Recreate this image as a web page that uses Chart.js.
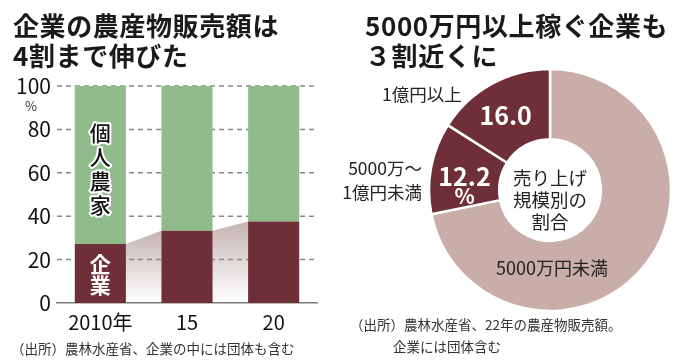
<!DOCTYPE html>
<html lang="ja">
<head>
<meta charset="utf-8">
<script src="https://cdn.jsdelivr.net/npm/chart.js@4.4.1/dist/chart.umd.min.js"></script>
<style>
  body { margin: 0; background: #fff; font-family: "Noto Sans CJK JP", sans-serif; color: #1a1a1a; }
  #wrap { position: relative; width: 680px; height: 363px; overflow: hidden; }
  canvas { position: absolute; }
  .t { position: absolute; white-space: nowrap; line-height: 1; }
  .title { font-size: 26px; font-weight: 700; letter-spacing: 0.6px; }
  .src { font-size: 13.5px; color: #333; }
  .lbl { font-size: 17.5px; color: #222; }
</style>
</head>
<body>
<div id="wrap">
  <canvas id="graficoBarras" width="340" height="363" style="left:0;top:0;width:340px;height:363px"></canvas>
  <canvas id="graficoRosca" width="350" height="363" style="left:330px;top:0;width:350px;height:363px"></canvas>

  <div class="t title" style="left:13px;top:12px">企業の農産物販売額は</div>
  <div class="t title" style="left:13px;top:42px">4割まで伸びた</div>
  <div class="t" style="left:25px;top:99px;font-size:13px;color:#333">%</div>
  <div class="t src" style="left:11px;top:342px">（出所）農林水産省、企業の中には団体も含む</div>

  <div class="t title" style="left:365px;top:12px">5000万円以上稼ぐ企業も</div>
  <div class="t title" style="left:365px;top:42px">３割近くに</div>
  <div class="t lbl" style="left:382px;top:85px">1億円以上</div>
  <div class="t lbl" style="right:258px;top:159px;text-align:right">5000万～</div>
  <div class="t lbl" style="right:258px;top:183px;text-align:right">1億円未満</div>
  <div class="t lbl" style="left:496px;top:258px;font-size:18px">5000万円未満</div>
  <div class="t" style="left:500px;top:166px;width:100px;text-align:center;font-size:18.5px;line-height:22px;color:#222">売り上げ<br>規模別の<br>割合</div>
  <div class="t src" style="left:350px;top:318px">（出所）農林水産省、22年の農産物販売額。</div>
  <div class="t src" style="left:393px;top:340px">企業には団体含む</div>
</div>

<script>
// --- DADOS ---
const ANOS = ['2010年', '15', '20'];
const EMPRESAS = [27.2, 33.3, 37.6];
const INDIVIDUAIS = [72.8, 66.7, 62.4];

const FAIXAS = ['5000万円未満', '5000万～1億円未満', '1億円以上'];
const PARTICIPACAO = [71.8, 12.2, 16.0];

const VERMELHO = '#6e2f38';
const VERDE = '#8fbc8a';
const ROSA = '#c9ada8';
const FONTE = '"Noto Sans CJK JP", sans-serif';

// faixa em degradê ligando o topo de uma barra à seguinte
const pluginLigacao = {
    id: 'ligacao',
    beforeDraw(chart) {
        const ctx = chart.ctx;
        const barras = chart.getDatasetMeta(0).data;
        for (let i = 0; i < barras.length - 1; i++) {
            const a = barras[i], b = barras[i + 1];
            const x1 = a.x + a.width / 2, x2 = b.x - b.width / 2;
            const topo = Math.min(a.y, b.y);
            const grad = ctx.createLinearGradient(0, topo, 0, a.base);
            grad.addColorStop(0, '#c4b4b2');
            grad.addColorStop(1, '#ffffff');
            ctx.save();
            ctx.fillStyle = grad;
            ctx.beginPath();
            ctx.moveTo(x1, a.y);
            ctx.lineTo(x2, b.y);
            ctx.lineTo(x2, b.base);
            ctx.lineTo(x1, a.base);
            ctx.closePath();
            ctx.fill();
            ctx.restore();
        }
    },
    // linhas tracejadas de grade, desenhadas à mão por cima do degradê
    beforeDatasetsDraw(chart) {
        const ctx = chart.ctx;
        const area = chart.chartArea;
        const y = chart.scales.y;
        ctx.save();
        ctx.strokeStyle = '#888888';
        ctx.lineWidth = 1.5;
        ctx.setLineDash([5, 4]);
        y.ticks.forEach(t => {
            if (t.value === 0) return;
            const py = y.getPixelForValue(t.value);
            ctx.beginPath();
            ctx.moveTo(area.left, py);
            ctx.lineTo(area.right, py);
            ctx.stroke();
        });
        ctx.restore();
    },
    afterDatasetsDraw(chart) {
        const ctx = chart.ctx;
        const y = chart.scales.y;
        const x = chart.getDatasetMeta(0).data[0].x;
        ctx.save();
        ctx.textAlign = 'center';
        ctx.textBaseline = 'middle';
        ctx.font = '500 21px ' + FONTE;
        ctx.lineJoin = 'round';
        ['個', '人', '農', '家'].forEach((c, i) => {
            const py = y.getPixelForValue(78.3 - i * 11);
            ctx.strokeStyle = '#fff';
            ctx.lineWidth = 4;
            ctx.strokeText(c, x, py);
            ctx.fillStyle = '#111';
            ctx.fillText(c, x, py);
        });
        ctx.font = '700 21px ' + FONTE;
        ctx.fillStyle = '#fff';
        ['企', '業'].forEach((c, i) => {
            ctx.fillText(c, x, y.getPixelForValue(18 - i * 9.7));
        });
        ctx.restore();
    }
};

new Chart(document.getElementById('graficoBarras'), {
    type: 'bar',
    data: {
        labels: ANOS,
        datasets: [
            { label: '企業', data: EMPRESAS, backgroundColor: VERMELHO },
            { label: '個人農家', data: INDIVIDUAIS, backgroundColor: VERDE }
        ]
    },
    options: {
        responsive: false,
        animation: false,
        barPercentage: 0.59,
        categoryPercentage: 1,
        layout: { padding: { top: 86, right: 23, left: 0, bottom: 0 } },
        plugins: { legend: { display: false }, tooltip: { enabled: false } },
        scales: {
            x: {
                stacked: true,
                grid: { display: false, drawTicks: false },
                border: { display: true, color: '#7a7a7a', width: 1.5 },
                ticks: { color: '#111', font: { family: FONTE, size: 20 }, padding: 7 },
                afterFit: s => { s.height = 60; }
            },
            y: {
                stacked: true,
                min: 0,
                max: 100,
                grid: { display: false, drawTicks: false },
                border: { display: false },
                ticks: { stepSize: 20, color: '#111', font: { family: FONTE, size: 21 }, padding: 6 },
                afterFit: s => { s.width = 57; }
            }
        }
    },
    plugins: [pluginLigacao]
});

// rótulos de valor dentro das fatias escuras
const pluginValores = {
    id: 'valores',
    afterDatasetsDraw(chart) {
        const ctx = chart.ctx;
        const fatias = chart.getDatasetMeta(0).data;
        ctx.save();
        ctx.fillStyle = '#fff';
        ctx.textAlign = 'center';
        ctx.textBaseline = 'middle';
        ctx.font = '700 25px ' + FONTE;
        const p16 = fatias[2].getCenterPoint();
        ctx.fillText(PARTICIPACAO[2].toFixed(1), p16.x - 3, p16.y + 1);
        const p12 = fatias[1].getCenterPoint();
        ctx.fillText(PARTICIPACAO[1].toFixed(1), p12.x - 1, p12.y + 2);
        ctx.font = '700 21px ' + FONTE;
        ctx.fillText('%', p12.x - 1, p12.y + 22);
        ctx.restore();
    }
};

new Chart(document.getElementById('graficoRosca'), {
    type: 'doughnut',
    data: {
        labels: FAIXAS,
        datasets: [{
            data: PARTICIPACAO,
            backgroundColor: [ROSA, VERMELHO, VERMELHO],
            borderColor: '#fff',
            borderWidth: 2.5
        }]
    },
    options: {
        responsive: false,
        animation: false,
        radius: 121,
        cutout: '42%',
        layout: { padding: { left: 100, right: 10, top: 70, bottom: 53 } },
        plugins: { legend: { display: false }, tooltip: { enabled: false } }
    },
    plugins: [pluginValores]
});
</script>
</body>
</html>
